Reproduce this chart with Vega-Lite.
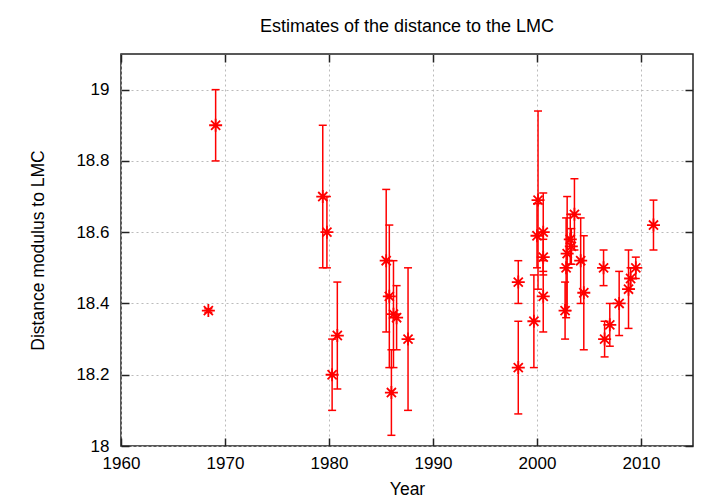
{
  "$schema": "https://vega.github.io/schema/vega-lite/v6.json",
  "width": 572,
  "height": 392,
  "autosize": {"type": "none"},
  "padding": {"left": 121, "top": 54, "right": 27, "bottom": 58},
  "background": "white",
  "title": {"text": "Estimates of the distance to the LMC", "font": "Liberation Sans", "fontSize": 18, "fontWeight": "normal", "color": "black", "offset": 17},
  "config": {
    "view": {"stroke": "#222", "strokeWidth": 1.5},
    "axis": {
      "domain": false,
      "labelFont": "Liberation Sans",
      "labelFontSize": 17,
      "labelColor": "black",
      "labelFlush": false,
      "titleFont": "Liberation Sans",
      "titleFontSize": 17.5,
      "titleFontWeight": "normal",
      "titleColor": "black",
      "tickColor": "#222",
      "tickWidth": 1.5,
      "tickSize": -8,
      "gridColor": "#bbbbbb",
      "gridDash": [2, 3],
      "gridWidth": 1
    }
  },
  "data": {
    "values": [
      {"year": 1968.4, "dm": 18.38, "lo": 18.375, "hi": 18.385},
      {"year": 1969.1, "dm": 18.90, "lo": 18.80, "hi": 19.00},
      {"year": 1979.4, "dm": 18.70, "lo": 18.50, "hi": 18.90},
      {"year": 1979.8, "dm": 18.60, "lo": 18.50, "hi": 18.70},
      {"year": 1980.3, "dm": 18.20, "lo": 18.10, "hi": 18.30},
      {"year": 1980.8, "dm": 18.31, "lo": 18.16, "hi": 18.46},
      {"year": 1985.5, "dm": 18.52, "lo": 18.32, "hi": 18.72},
      {"year": 1985.8, "dm": 18.42, "lo": 18.22, "hi": 18.62},
      {"year": 1986.0, "dm": 18.15, "lo": 18.03, "hi": 18.27},
      {"year": 1986.2, "dm": 18.37, "lo": 18.22, "hi": 18.52},
      {"year": 1986.5, "dm": 18.36, "lo": 18.27, "hi": 18.45},
      {"year": 1987.6, "dm": 18.30, "lo": 18.10, "hi": 18.50},
      {"year": 1998.2, "dm": 18.46, "lo": 18.40, "hi": 18.52},
      {"year": 1998.2, "dm": 18.22, "lo": 18.09, "hi": 18.35},
      {"year": 1999.7, "dm": 18.35, "lo": 18.22, "hi": 18.48},
      {"year": 2000.0, "dm": 18.59, "lo": 18.50, "hi": 18.68},
      {"year": 2000.1, "dm": 18.69, "lo": 18.44, "hi": 18.94},
      {"year": 2000.6, "dm": 18.60, "lo": 18.49, "hi": 18.71},
      {"year": 2000.6, "dm": 18.53, "lo": 18.48, "hi": 18.58},
      {"year": 2000.6, "dm": 18.42, "lo": 18.32, "hi": 18.52},
      {"year": 2002.7, "dm": 18.38, "lo": 18.30, "hi": 18.46},
      {"year": 2002.8, "dm": 18.50, "lo": 18.36, "hi": 18.64},
      {"year": 2002.9, "dm": 18.54, "lo": 18.38, "hi": 18.70},
      {"year": 2003.2, "dm": 18.58, "lo": 18.51, "hi": 18.65},
      {"year": 2003.3, "dm": 18.56, "lo": 18.51, "hi": 18.61},
      {"year": 2003.6, "dm": 18.65, "lo": 18.55, "hi": 18.75},
      {"year": 2004.2, "dm": 18.52, "lo": 18.40, "hi": 18.64},
      {"year": 2004.5, "dm": 18.43, "lo": 18.27, "hi": 18.59},
      {"year": 2006.4, "dm": 18.50, "lo": 18.45, "hi": 18.55},
      {"year": 2006.5, "dm": 18.30, "lo": 18.25, "hi": 18.35},
      {"year": 2007.0, "dm": 18.34, "lo": 18.28, "hi": 18.40},
      {"year": 2007.9, "dm": 18.40, "lo": 18.31, "hi": 18.49},
      {"year": 2008.8, "dm": 18.44, "lo": 18.33, "hi": 18.55},
      {"year": 2009.0, "dm": 18.47, "lo": 18.44, "hi": 18.50},
      {"year": 2009.5, "dm": 18.50, "lo": 18.47, "hi": 18.53},
      {"year": 2011.2, "dm": 18.62, "lo": 18.55, "hi": 18.69}
    ]
  },
  "layer": [
    {
      "mark": {"type": "rule", "color": "#ff0000", "strokeWidth": 1.5},
      "encoding": {
        "x": {"field": "year", "type": "quantitative",
              "scale": {"domain": [1960, 2015], "nice": false, "zero": false},
              "axis": {"orient": "bottom", "title": "Year", "values": [1960, 1970, 1980, 1990, 2000, 2010], "format": "d", "labelPadding": 17, "titlePadding": 9, "grid": true}},
        "y": {"field": "lo", "type": "quantitative",
              "scale": {"domain": [18, 19.1], "nice": false, "zero": false},
              "axis": {"orient": "left", "title": "Distance modulus to LMC", "values": [18, 18.2, 18.4, 18.6, 18.8, 19], "format": "~g", "labelPadding": 20, "titlePadding": 28, "grid": true}},
        "y2": {"field": "hi"}
      }
    },
    {
      "mark": {"type": "point", "shape": "M-1,0L1,0", "size": 64, "stroke": "#ff0000", "strokeWidth": 1.5, "filled": false, "opacity": 1},
      "encoding": {
        "x": {"field": "year", "type": "quantitative", "axis": null},
        "y": {"field": "lo", "type": "quantitative", "axis": null}
      }
    },
    {
      "mark": {"type": "point", "shape": "M-1,0L1,0", "size": 64, "stroke": "#ff0000", "strokeWidth": 1.5, "filled": false, "opacity": 1},
      "encoding": {
        "x": {"field": "year", "type": "quantitative", "axis": null},
        "y": {"field": "hi", "type": "quantitative", "axis": null}
      }
    },
    {
      "mark": {"type": "point", "shape": "M-1,0L1,0M0,-1L0,1M-0.7,-0.7L0.7,0.7M-0.7,0.7L0.7,-0.7", "size": 169, "stroke": "#ff0000", "strokeWidth": 1.8, "filled": false, "opacity": 1},
      "encoding": {
        "x": {"field": "year", "type": "quantitative",
              "axis": {"orient": "top", "title": null, "labels": false, "grid": false, "values": [1960, 1970, 1980, 1990, 2000, 2010]}},
        "y": {"field": "dm", "type": "quantitative",
              "axis": {"orient": "right", "title": null, "labels": false, "grid": false, "values": [18, 18.2, 18.4, 18.6, 18.8, 19]}}
      }
    }
  ],
  "resolve": {"axis": {"x": "independent", "y": "independent"}}
}
